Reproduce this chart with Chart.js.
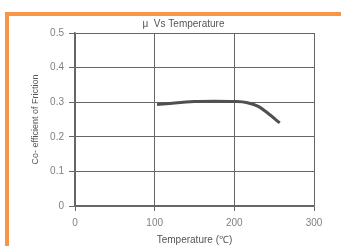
<!DOCTYPE html>
<html>
<head>
<meta charset="utf-8">
<script src="https://cdn.jsdelivr.net/npm/chart.js@4/dist/chart.umd.min.js"></script>
<style>
html,body{margin:0;padding:0;background:#fff;}
#wrap{position:relative;width:341px;height:246px;overflow:hidden;}
#frame{position:absolute;left:5px;top:12px;width:340px;height:240px;border-left:4px solid #F79646;border-top:4px solid #F79646;box-sizing:border-box;}
canvas{position:absolute;left:0;top:0;}
</style>
</head>
<body>
<div id="wrap">
<div id="frame"></div>
<canvas id="c" width="341" height="246"></canvas>
</div>
<script>
// Data
const temperatures = [103, 125, 150, 175, 200, 215, 230, 245, 257];
const frictionValues = [0.293, 0.298, 0.302, 0.303, 0.302, 0.299, 0.288, 0.263, 0.240];
const xTicks = [0, 100, 200, 300];
const yTicks = [0, 0.1, 0.2, 0.3, 0.4, 0.5];
const chartTitle = "μ  Vs Temperature";
const xTitle = "Temperature (℃)";
const yTitle = "Co- efficient of Friction";

const points = temperatures.map((t, i) => ({x: t, y: frictionValues[i]}));
const FONT = "'Liberation Sans', Arial, sans-serif";

const titlePlugin = {
  id: 'topTitle',
  afterDraw(chart) {
    const ctx = chart.ctx;
    ctx.save();
    ctx.font = "10px " + FONT;
    ctx.fillStyle = "#555";
    ctx.textAlign = "center";
    ctx.textBaseline = "middle";
    ctx.fillText(chartTitle, 183.5, 24);
    ctx.restore();
  }
};

new Chart(document.getElementById('c'), {
  type: 'line',
  data: {
    datasets: [{
      data: points,
      borderColor: '#505050',
      borderWidth: 3,
      pointRadius: 0,
      cubicInterpolationMode: 'monotone',
      fill: false
    }]
  },
  options: {
    responsive: false,
    animation: false,
    devicePixelRatio: 1,
    layout: {padding: {left: 0, right: 27, top: 33, bottom: 0}},
    plugins: {legend: {display: false}, tooltip: {enabled: false}, title: {display: false}},
    scales: {
      x: {
        type: 'linear',
        min: 0, max: 300,
        afterBuildTicks(scale) { scale.ticks = xTicks.map(v => ({value: v})); },
        afterFit(scale) { scale.height = 40; },
        grid: {color: '#666', lineWidth: 1, tickLength: 5, tickColor: '#666', drawOnChartArea: true},
        border: {color: '#666', width: 1.5},
        ticks: {color: '#808080', font: {family: FONT, size: 10}, padding: 6, maxRotation: 0},
        title: {display: true, text: xTitle, color: '#555', font: {family: FONT, size: 10}, padding: {top: 0, bottom: 0}}
      },
      y: {
        type: 'linear',
        min: 0, max: 0.5,
        afterBuildTicks(scale) { scale.ticks = yTicks.map(v => ({value: v})); },
        afterFit(scale) { scale.width = 75; },
        grid: {color: '#666', lineWidth: 1, tickLength: 6, tickColor: '#666'},
        border: {color: '#666', width: 1.5},
        ticks: {color: '#808080', font: {family: FONT, size: 10}, padding: 5,
          callback: v => (v === 0 ? '0' : v.toFixed(1))},
        title: {display: true, text: yTitle, color: '#555', font: {family: FONT, size: 9}, padding: {top: 30, bottom: 0}}
      }
    }
  },
  plugins: [titlePlugin]
});
</script>
</body>
</html>
